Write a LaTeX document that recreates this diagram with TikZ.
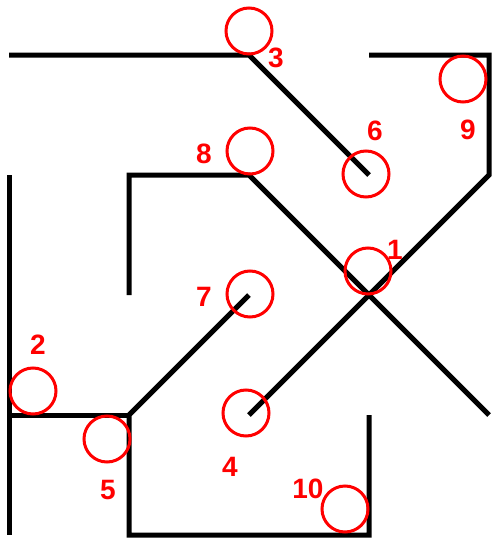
\documentclass[tikz,border=0pt]{standalone}
\usepackage{fontspec}
\setmainfont{Liberation Sans}
\tikzset{every picture/.style={line width=0.75pt}}
\tikzset{
  wall/.style={draw=black, line width=3.75pt},
  ring/.style={circle, draw={rgb, 255:red, 255; green, 0; blue, 0}, line width=2.25pt, minimum size=34.5pt, inner sep=0pt},
  num/.style={anchor=center, inner sep=0pt, text={rgb, 255:red, 255; green, 0; blue, 0}, font=\fontsize{21}{21}\selectfont\bfseries}
}

\begin{document}
\begin{tikzpicture}[x=0.75pt,y=0.75pt,yscale=-1,xscale=1]
\useasboundingbox (0,0) rectangle (492,539);

%Grid points of the walls
\coordinate (a1) at (9,55);   \coordinate (c1) at (249,55);
\coordinate (d1) at (369,55); \coordinate (e1) at (489,55);
\coordinate (a2) at (9,175);  \coordinate (b2) at (129,175);
\coordinate (c2) at (249,175); \coordinate (d2) at (369,175);
\coordinate (e2) at (489,175);
\coordinate (b3) at (129,295); \coordinate (c3) at (249,295);
\coordinate (a4) at (9,415);  \coordinate (b4) at (129,415);
\coordinate (c4) at (249,415); \coordinate (d4) at (369,415);
\coordinate (e4) at (489,415);
\coordinate (a5) at (9,535);  \coordinate (b5) at (129,535);
\coordinate (d5) at (369,535);

%Walls
\draw [wall] (a1) -- (c1) -- (d2) ;
\draw [wall] (d1) -- (e1) -- (e2) -- (c4) ;
\draw [wall] (b3) -- (b2) -- (c2) -- (e4) ;
\draw [wall] (a2) -- (a5) ;
\draw [wall] (a4) -- (b4) ;
\draw [wall] (c3) -- (b4) -- (b5) -- (d5) -- (d4) ;

%Circles
\node [ring] (r1) at (368,271) {};
\node [ring] (r2) at (33,391) {};
\node [ring] (r3) at (249,31) {};
\node [ring] (r4) at (246,413) {};
\node [ring] (r5) at (107,439) {};
\node [ring] (r6) at (366,174) {};
\node [ring] (r7) at (250,294) {};
\node [ring] (r8) at (250,151) {};
\node [ring] (r9) at (463,79) {};
\node [ring] (r10) at (345,509) {};

% Text Node
\node [num] (n1) at (395,250) {1};
\node [num] (n2) at (38,345) {2};
\node [num] (n3) at (276,58) {3};
\node [num] (n4) at (230,467) {4};
\node [num] (n5) at (108,490) {5};
\node [num] (n6) at (375,131) {6};
\node [num] (n7) at (204,297) {7};
\node [num] (n8) at (204,154) {8};
\node [num] (n9) at (468,130) {9};
\node [num] (n10) at (308,489) {10};

\end{tikzpicture}
\end{document}
